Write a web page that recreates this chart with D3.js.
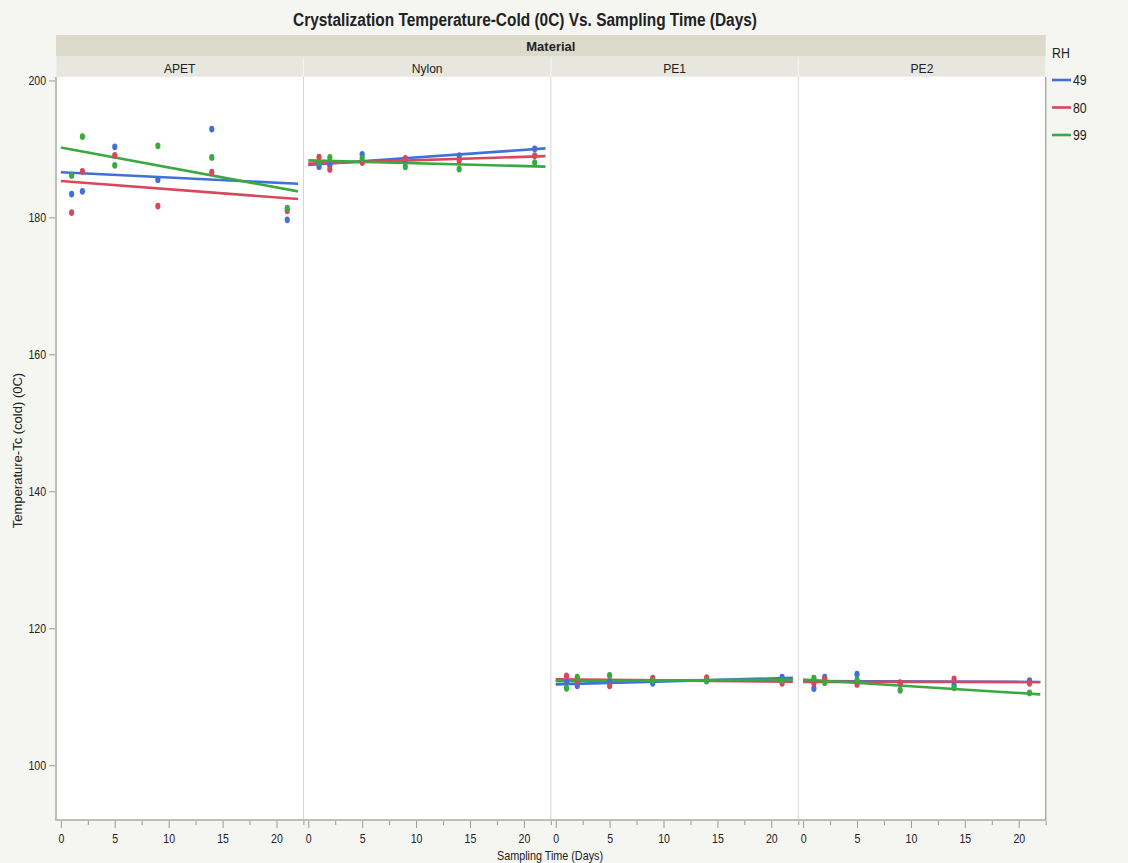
<!DOCTYPE html>
<html>
<head>
<meta charset="utf-8">
<script src="https://cdn.jsdelivr.net/npm/d3@7/dist/d3.min.js"></script>
<style>
  html, body { margin: 0; padding: 0; background: #f5f5f1; }
  svg { display: block; }
  text { font-family: "Liberation Sans Narrow", "Arial Narrow", "Liberation Sans", Arial, sans-serif; fill: #222; }
</style>
</head>
<body>
<svg id="chart" width="1128" height="863"></svg>
<script>
// Panels (Material) and colour groups (RH)
const materials = ["APET", "Nylon", "PE1", "PE2"];
const rhLevels = ["49", "80", "99"];
const rhColors = ["#4170d8", "#d7485c", "#3aa940"];
const days = [1, 2, 5, 9, 14, 21];

// Cold crystallization temperature (°C) per sampling day
const apet49 = [183.4, 183.8, 190.3, 185.5, 192.9, 179.65];
const apet80 = [180.7, 186.7, 189.05, 181.65, 186.6, 180.96];
const apet99 = [186.1, 191.8, 187.6, 190.45, 188.75, 181.35];

const nylon49 = [187.4, 187.6, 189.2, 188.4, 189.0, 190.0];
const nylon80 = [188.8, 187.0, 188.0, 188.6, 188.3, 189.0];
const nylon99 = [188.0, 188.75, 188.6, 187.4, 187.05, 188.0];

const pe1_49 = [112.16, 111.6, 112.2, 111.97, 112.3, 112.85];
const pe1_80 = [113.04, 112.3, 111.6, 112.7, 112.8, 111.97];
const pe1_99 = [111.24, 112.85, 113.1, 112.3, 112.35, 112.4];

const pe2_49 = [111.2, 112.85, 113.3, 112.0, 111.7, 112.35];
const pe2_80 = [111.97, 112.6, 111.8, 112.06, 112.6, 111.97];
const pe2_99 = [112.7, 112.06, 112.45, 110.95, 111.3, 110.55];

const xTicks = [0, 5, 10, 15, 20];
const xMinorTicks = [2.5, 7.5, 12.5, 17.5, 22.5];
const yTicks = [100, 120, 140, 160, 180, 200];

const seriesByMaterial = {
  APET: [apet49, apet80, apet99],
  Nylon: [nylon49, nylon80, nylon99],
  PE1: [pe1_49, pe1_80, pe1_99],
  PE2: [pe2_49, pe2_80, pe2_99]
};

// Long table of observations
const rows = [];
materials.forEach(m => {
  seriesByMaterial[m].forEach((vals, gi) => {
    vals.forEach((v, i) => rows.push({ material: m, rh: rhLevels[gi], day: days[i], value: v }));
  });
});

// Ordinary least squares fit for one series
function linearFit(xs, ys) {
  const mx = d3.mean(xs), my = d3.mean(ys);
  let sxy = 0, sxx = 0;
  xs.forEach((x, i) => { sxy += (x - mx) * (ys[i] - my); sxx += (x - mx) * (x - mx); });
  const slope = sxy / sxx;
  return x => my + slope * (x - mx);
}

// Narrow the glyphs horizontally around each text's own x position
function condense(sel, k) {
  sel.each(function () {
    const t = d3.select(this);
    const x0 = +(t.attr("x") || 0);
    t.attr("transform", `translate(${x0},0) scale(${k},1) translate(${-x0},0)`);
  });
}

const svg = d3.select("#chart");

const plotLeft = 56, plotRight = 1045.7, plotTop = 77, plotBottom = 820;
const stripTop = 35, stripMid = 56.5;

const panelScale = d3.scaleBand().domain(materials).range([plotLeft, plotRight]).padding(0);
const pw = panelScale.bandwidth();
const x = d3.scaleLinear().domain([-0.45, 22.5]).range([0, pw]);
const y = d3.scaleLinear().domain([92, 200.5]).range([plotBottom, plotTop]);
const color = d3.scaleOrdinal().domain(rhLevels).range(rhColors);

// Title
svg.append("text")
  .attr("x", 525).attr("y", 26)
  .attr("text-anchor", "middle")
  .attr("textLength", 464).attr("lengthAdjust", "spacingAndGlyphs")
  .style("font-size", "18px").style("font-weight", "bold")
  .text("Crystalization Temperature-Cold (0C) Vs. Sampling Time (Days)");

// Header strips
svg.append("rect")
  .attr("x", plotLeft).attr("y", stripTop)
  .attr("width", plotRight - plotLeft).attr("height", stripMid - stripTop)
  .attr("fill", "#dcdacb");
svg.append("text")
  .attr("x", (plotLeft + plotRight) / 2).attr("y", 51)
  .attr("text-anchor", "middle")
  .style("font-size", "13px").style("font-weight", "bold")
  .text("Material");

// Plot background
svg.append("rect")
  .attr("x", plotLeft).attr("y", plotTop)
  .attr("width", plotRight - plotLeft).attr("height", plotBottom - plotTop)
  .attr("fill", "#ffffff");

const panel = svg.selectAll("g.panel")
  .data(materials)
  .join("g")
  .attr("class", "panel")
  .attr("transform", d => `translate(${panelScale(d)},0)`);

panel.append("rect")
  .attr("x", 0.5).attr("y", stripMid + 0.5)
  .attr("width", pw - 1).attr("height", plotTop - stripMid - 1)
  .attr("fill", "#e8e7df");

panel.append("text")
  .attr("x", pw / 2).attr("y", 73)
  .attr("text-anchor", "middle")
  .style("font-size", "13px")
  .text(d => d)
  .call(condense, 0.93);

// Panel separators
panel.filter((d, i) => i > 0).append("line")
  .attr("x1", 0).attr("x2", 0)
  .attr("y1", plotTop).attr("y2", plotBottom)
  .attr("stroke", "#d4d4d4").attr("stroke-width", 1);

// X axis per panel
panel.each(function (m) {
  const g = d3.select(this);
  const ax = g.append("g").attr("transform", `translate(0,${plotBottom + 1})`);
  ax.call(d3.axisBottom(x).tickValues(xTicks).tickSize(7).tickPadding(6).tickFormat(d3.format("d")));
  ax.select(".domain").remove();
  ax.selectAll(".tick line").attr("stroke", "#999");
  ax.selectAll(".tick text").style("font-size", "12px").attr("fill", "#222").call(condense, 0.88);
  const minor = g.append("g").attr("transform", `translate(0,${plotBottom + 1})`);
  minor.call(d3.axisBottom(x).tickValues(xMinorTicks).tickSize(4).tickFormat(""));
  minor.select(".domain").remove();
  minor.selectAll(".tick line").attr("stroke", "#999");
});

// Frame
svg.append("path")
  .attr("d", `M${plotLeft},${plotTop}V${plotBottom}H${plotRight}V${plotTop}`)
  .attr("fill", "none").attr("stroke", "#aaa").attr("stroke-width", 1.5);

// Y axis
const yAxis = svg.append("g").attr("transform", `translate(${plotLeft - 1},0)`);
yAxis.call(d3.axisLeft(y).tickValues(yTicks).tickSize(6).tickPadding(3));
yAxis.select(".domain").remove();
yAxis.selectAll(".tick line").attr("stroke", "#999");
yAxis.selectAll(".tick text").style("font-size", "12px").attr("fill", "#222").call(condense, 0.88);

// Axis titles
svg.append("text")
  .attr("transform", `translate(22,${(plotTop + plotBottom) / 2 + 2}) rotate(-90)`)
  .attr("text-anchor", "middle")
  .style("font-size", "13px")
  .text("Temperature-Tc (cold) (0C)");
svg.append("text")
  .attr("x", 550).attr("y", 860)
  .attr("text-anchor", "middle")
  .attr("textLength", 106).attr("lengthAdjust", "spacingAndGlyphs")
  .style("font-size", "12px")
  .text("Sampling Time (Days)");

// Fit lines and points per panel
panel.each(function (m) {
  const g = d3.select(this);
  const marks = g.append("g");
  rhLevels.forEach(rh => {
    const pts = rows.filter(r => r.material === m && r.rh === rh);
    const f = linearFit(pts.map(p => p.day), pts.map(p => p.value));
    const fitPts = [0, 22].map(d => [d, f(d)]);
    marks.append("path")
      .datum(fitPts)
      .attr("d", d3.line().x(d => x(d[0])).y(d => y(d[1])))
      .attr("fill", "none")
      .attr("stroke", color(rh))
      .attr("stroke-width", 2.6)
      .attr("stroke-linecap", "butt");
  });
  rhLevels.forEach(rh => {
    const pts = rows.filter(r => r.material === m && r.rh === rh);
    marks.selectAll(null)
      .data(pts)
      .join("ellipse")
      .attr("cx", d => x(d.day))
      .attr("cy", d => y(d.value))
      .attr("rx", 2.6).attr("ry", 3.4)
      .attr("fill", color(rh));
  });
});

// Legend
const legend = svg.append("g").attr("transform", "translate(1050,0)");
legend.append("text")
  .attr("x", 2).attr("y", 58)
  .style("font-size", "14px")
  .text("RH")
  .call(condense, 0.88);
const item = legend.selectAll("g.item")
  .data(rhLevels)
  .join("g")
  .attr("class", "item")
  .attr("transform", (d, i) => `translate(0,${80 + i * 27.5})`);
item.append("line")
  .attr("x1", 2).attr("x2", 21)
  .attr("y1", 0).attr("y2", 0)
  .attr("stroke", d => color(d)).attr("stroke-width", 2.6);
item.append("text")
  .attr("x", 23).attr("y", 5)
  .style("font-size", "14px")
  .text(d => d)
  .call(condense, 0.88);
</script>
</body>
</html>
